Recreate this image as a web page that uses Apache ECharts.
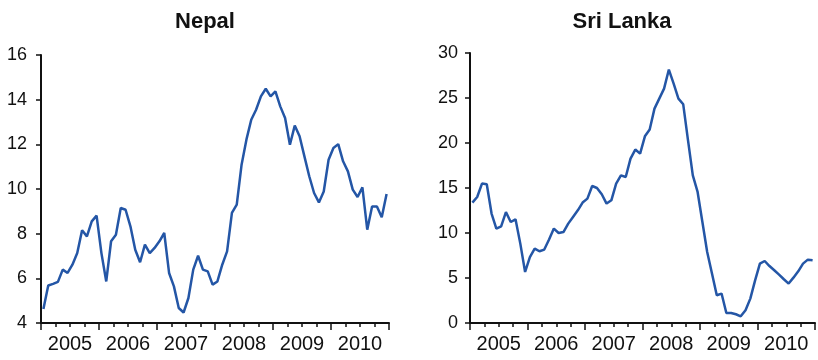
<!DOCTYPE html>
<html>
<head>
<meta charset="utf-8">
<script src="https://cdn.jsdelivr.net/npm/echarts@6/dist/echarts.min.js"></script>
<style>html,body{margin:0;padding:0;background:#fff}#c{width:818px;height:360px}</style>
</head>
<body>
<div id="c"></div>
<script>
// Year labels (each spans 12 monthly observations, Jan 2005 - Dec 2010)
const years = ['2005', '2006', '2007', '2008', '2009', '2010'];
const titles = ['Nepal', 'Sri Lanka'];

// Monthly values, Jan 2005 .. Dec 2010
const nepal = [
  4.63, 5.68, 5.75, 5.84, 6.39, 6.24, 6.61, 7.13, 8.15, 7.88, 8.55, 8.81,
  7.13, 5.86, 7.66, 7.95, 9.15, 9.07, 8.33, 7.28, 6.72, 7.51, 7.13, 7.36,
  7.66, 8.03, 6.24, 5.64, 4.67, 4.47, 5.12, 6.39, 7.01, 6.39, 6.31, 5.72,
  5.86, 6.61, 7.21, 8.93, 9.30, 11.09, 12.21, 13.10, 13.55, 14.15, 14.49, 14.15,
  14.37, 13.70, 13.18, 11.98, 12.84, 12.36, 11.46, 10.57, 9.82, 9.40, 9.89, 11.31,
  11.84, 12.01, 11.24, 10.79, 9.97, 9.64, 10.07, 8.18, 9.22, 9.22, 8.73, 9.78
];
const sriLanka = [
  13.38, 14.0, 15.49, 15.41, 12.16, 10.49, 10.74, 12.33, 11.22, 11.52, 8.82, 5.67,
  7.33, 8.27, 7.97, 8.16, 9.27, 10.49, 10.0, 10.11, 11.04, 11.78, 12.52, 13.38,
  13.82, 15.22, 15.0, 14.3, 13.27, 13.63, 15.49, 16.41, 16.22, 18.27, 19.27, 18.82,
  20.74, 21.49, 23.82, 24.93, 26.04, 28.16, 26.6, 24.93, 24.3, 20.3, 16.41, 14.56,
  11.22, 7.89, 5.49, 3.08, 3.27, 1.11, 1.11, 0.97, 0.74, 1.41, 2.71, 4.74,
  6.6, 6.89, 6.33, 5.86, 5.38, 4.86, 4.38, 5.04, 5.74, 6.6, 7.04, 6.97
];

const toPts = arr => arr.map((v, i) => [i + 0.5, v]);
const months = years.length * 12;
const ink = '#111';
const blue = '#2456a6';
const font = 'Liberation Sans, Arial, Helvetica, sans-serif';

function valX(gi) {
  return {
    type: 'value', gridIndex: gi, min: 0, max: months, interval: 12,
    axisLine: { show: true, lineStyle: { color: ink, width: 2 } },
    axisTick: { show: true, length: 7, lineStyle: { color: ink, width: 1.5 } },
    minorTick: { show: true, splitNumber: 4, length: 4, lineStyle: { color: ink, width: 1.5 } },
    axisLabel: { show: false }, splitLine: { show: false }, minorSplitLine: { show: false }
  };
}
function catX(gi) {
  return {
    type: 'category', gridIndex: gi, data: years, boundaryGap: true, position: 'bottom',
    axisLine: { show: false }, axisTick: { show: false }, splitLine: { show: false },
    axisLabel: { interval: 0, color: ink, fontSize: 20, fontFamily: font, margin: 11 }
  };
}
function valY(gi, min, max, interval, margin) {
  return {
    type: 'value', gridIndex: gi, min, max, interval,
    axisLine: { show: true, lineStyle: { color: ink, width: 2 } },
    axisTick: { show: true, length: 5, lineStyle: { color: ink, width: 1.5 } },
    axisLabel: { color: ink, fontSize: 18, fontFamily: font, margin },
    splitLine: { show: false }
  };
}

const chart = echarts.init(document.getElementById('c'), null, { renderer: 'canvas' });
chart.setOption({
  animation: false,
  backgroundColor: '#fff',
  title: [
    { text: titles[0], left: 200, top: 6, textAlign: 'center',
      textStyle: { fontSize: 22, fontWeight: 'bold', color: ink, fontFamily: font } },
    { text: titles[1], left: 617, top: 6, textAlign: 'center',
      textStyle: { fontSize: 22, fontWeight: 'bold', color: ink, fontFamily: font } }
  ],
  grid: [
    { left: 41, right: 429, top: 55, bottom: 37 },
    { left: 470, right: 3, top: 53, bottom: 37 }
  ],
  xAxis: [valX(0), catX(0), valX(1), catX(1)],
  yAxis: [valY(0, 4, 16, 2, 14), valY(1, 0, 30, 5, 12)],
  series: [
    { type: 'line', xAxisIndex: 0, yAxisIndex: 0, data: toPts(nepal), symbol: 'none',
      lineStyle: { color: blue, width: 2.5 }, smooth: false },
    { type: 'line', xAxisIndex: 2, yAxisIndex: 1, data: toPts(sriLanka), symbol: 'none',
      lineStyle: { color: blue, width: 2.5 }, smooth: false }
  ]
});
</script>
</body>
</html>
